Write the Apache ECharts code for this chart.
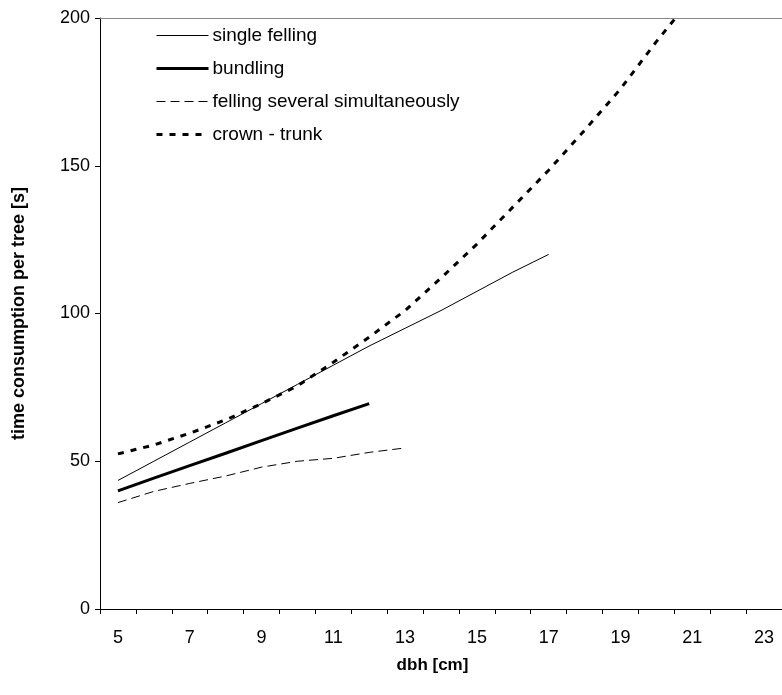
<!DOCTYPE html>
<html>
<head>
<meta charset="utf-8">
<script src="https://cdn.jsdelivr.net/npm/echarts@6/dist/echarts.min.js"></script>
<style>
  html, body { margin: 0; padding: 0; background: #fff; }
  #chart { width: 782px; height: 695px; }
</style>
</head>
<body>
<div id="chart"></div>
<script>
// dbh classes [cm]
var dbh = ['5', '6', '7', '8', '9', '10', '11', '12', '13', '14', '15', '16', '17', '18', '19', '20', '21', '22', '23'];

// time consumption per tree [s]
var singleFelling = [43.5, 50, 56.5, 63, 69.5, 76, 82.5, 89, 95, 101, 107.5, 114, 120];
var bundling = [40, 44.3, 48.5, 52.7, 57, 61.2, 65.4, 69.5];
var fellingSeveral = [36, 39.8, 42.5, 45, 48, 50, 51, 53, 54.5];
var crownTrunk = [52.5, 55.5, 59.5, 64, 69.5, 75.5, 83.5, 92, 101, 112, 123.5, 136, 148.5, 162, 176, 192, 207];

var yTicks = [0, 50, 100, 150, 200];

var FONT = "'Liberation Sans', Arial, sans-serif";

var styles = {
    'single felling': { width: 1, type: 'solid' },
    'bundling': { width: 3, type: 'solid' },
    'felling several simultaneously': { width: 1, type: [9, 5] },
    'crown - trunk': { width: 3, type: [6, 7] }
};

function lineSeries(name, data) {
    var st = styles[name];
    return {
        name: name,
        type: 'line',
        data: data,
        symbol: 'none',
        showSymbol: false,
        clip: true,
        lineStyle: { color: '#000', width: st.width, type: st.type, cap: 'butt' },
        itemStyle: { color: '#000' }
    };
}

// legend: line only, hide the fallback circle symbol
function legendItem(name) {
    var st = styles[name];
    return {
        name: name,
        itemStyle: { opacity: 0 },
        lineStyle: { color: '#000', width: st.width, type: st.type, cap: 'butt', opacity: 1 }
    };
}

var chart = echarts.init(document.getElementById('chart'));
chart.setOption({
    backgroundColor: '#fff',
    animation: false,
    grid: { left: 100, right: -6, top: 18, bottom: 86, containLabel: false },
    legend: {
        orient: 'vertical',
        left: 150,
        top: 21,
        itemWidth: 52,
        itemHeight: 14,
        itemGap: 14,
        itemStyle: { opacity: 0 },
        textStyle: { fontFamily: FONT, fontSize: 19, color: '#000', lineHeight: 18, padding: [0, 0, 0, -1] },
        data: ['single felling', 'bundling', 'felling several simultaneously', 'crown - trunk'].map(legendItem)
    },
    xAxis: [
        {
            type: 'category',
            data: dbh,
            boundaryGap: true,
            name: 'dbh [cm]',
            nameLocation: 'middle',
            nameGap: 48,
            nameTextStyle: { fontFamily: FONT, fontSize: 17, fontWeight: 'bold', color: '#000', padding: [0, 17, 0, 0] },
            axisLine: { lineStyle: { color: '#000', width: 1 } },
            axisTick: { show: true, interval: 0, length: 5, lineStyle: { color: '#000' } },
            axisLabel: { interval: 1, margin: 20, fontFamily: FONT, fontSize: 18, color: '#000' },
            splitLine: { show: false }
        },
        {
            type: 'category',
            data: dbh,
            position: 'top',
            axisLine: { lineStyle: { color: '#888', width: 1 } },
            axisTick: { show: false },
            axisLabel: { show: false },
            splitLine: { show: false }
        }
    ],
    yAxis: {
        type: 'value',
        min: yTicks[0],
        max: yTicks[yTicks.length - 1],
        interval: 50,
        name: 'time consumption per tree [s]',
        nameLocation: 'middle',
        nameGap: 72,
        nameTextStyle: { fontFamily: FONT, fontSize: 18, fontWeight: 'bold', color: '#000' },
        axisLine: { show: true, lineStyle: { color: '#000', width: 1 } },
        axisTick: { show: true, length: 5, lineStyle: { color: '#000' } },
        axisLabel: { margin: 10, fontFamily: FONT, fontSize: 18, color: '#000' },
        splitLine: { show: false }
    },
    series: [
        lineSeries('single felling', singleFelling),
        lineSeries('bundling', bundling),
        lineSeries('felling several simultaneously', fellingSeveral),
        lineSeries('crown - trunk', crownTrunk)
    ]
});
</script>
</body>
</html>
